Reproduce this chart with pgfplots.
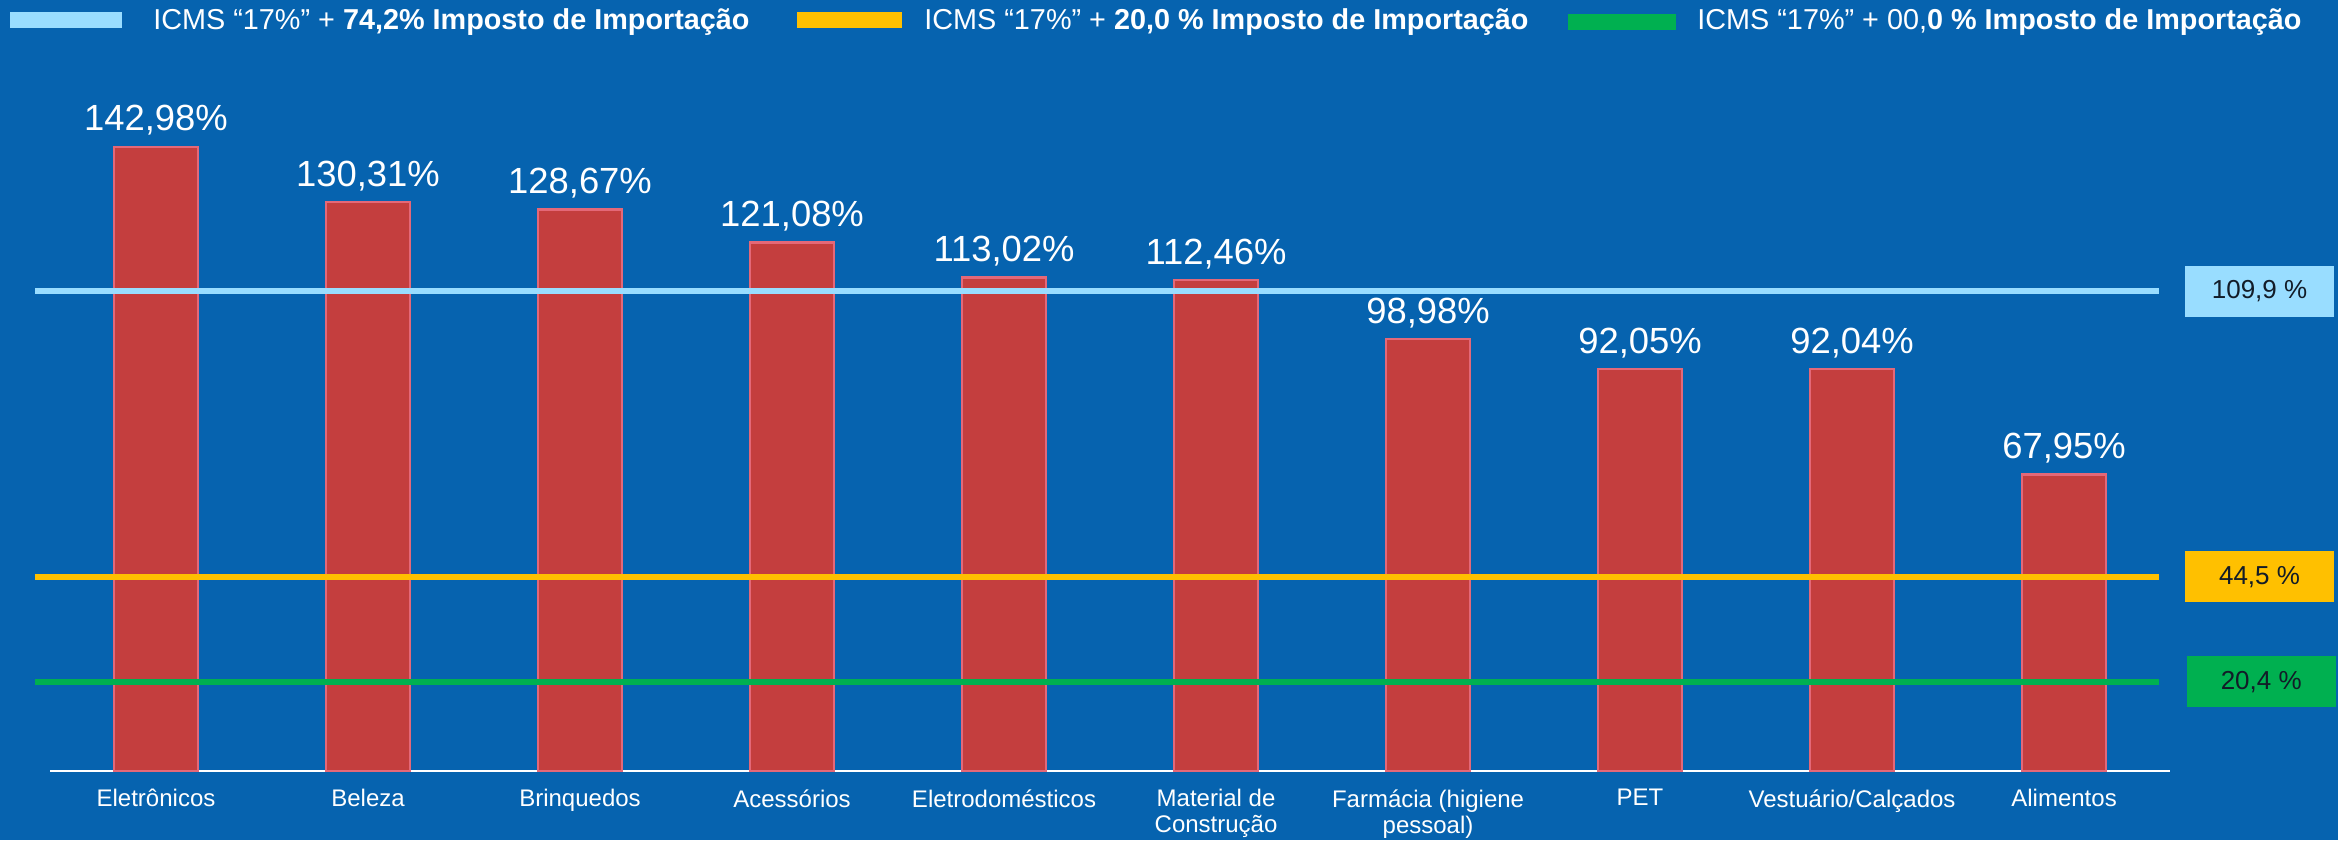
\documentclass[border=0pt]{standalone}
\usepackage{fontspec}
\setmainfont{Liberation Sans}
\usepackage{pgfplots}
\pgfplotsset{compat=1.18}
\usepackage{pgfplotstable}
\definecolor{bg}{RGB}{6,99,175}
\definecolor{barred}{RGB}{196,62,62}
\definecolor{glow}{RGB}{228,104,120}
\definecolor{lb}{RGB}{153,221,255}
\definecolor{og}{RGB}{255,192,0}
\definecolor{gr}{RGB}{0,176,80}
\definecolor{boxtext}{RGB}{18,28,40}

\pgfplotstableread{
x y lab
0 142.98 142,98\%
1 130.31 130,31\%
2 128.67 128,67\%
3 121.08 121,08\%
4 113.02 113,02\%
5 112.46 112,46\%
6 98.98 98,98\%
7 92.05 92,05\%
8 92.04 92,04\%
9 67.95 67,95\%
}\bars

\begin{document}
\begin{tikzpicture}
\path[use as bounding box, fill=bg] (0,0) rectangle (1169pt,420pt);
% legend
\fill[lb] (5pt,406pt) rectangle (61pt,414pt);
\node[anchor=base west, inner sep=0pt, text=white, font=\fontsize{14.4}{16}\selectfont] at (76.5pt,405pt) {ICMS “17\%” + \textbf{74,2\% Imposto de Importação}};
\fill[og] (398.5pt,406pt) rectangle (451pt,414pt);
\node[anchor=base west, inner sep=0pt, text=white, font=\fontsize{14.4}{16}\selectfont] at (462pt,405pt) {ICMS “17\%” + \textbf{20,0 \% Imposto de Importação}};
\fill[gr] (784pt,405pt) rectangle (838pt,413pt);
\node[anchor=base west, inner sep=0pt, text=white, font=\fontsize{14.4}{16}\selectfont] at (848.5pt,405pt) {ICMS “17\%” + 00,\textbf{0 \% Imposto de Importação}};
\begin{axis}[
  at={(25pt,34.5pt)}, anchor=south west,
  width=1060pt, height=327.4pt, scale only axis,
  xmin=-0.5, xmax=9.5, ymin=0, ymax=150,
  axis x line*=bottom, axis y line=none,
  x axis line style={white, line width=1pt, -},
  xtick={0,...,9},
  xticklabels={Eletrônicos,Beleza,Brinquedos,Acessórios,Eletrodomésticos,{Material de\\Construção},{Farmácia (higiene\\pessoal)},PET,Vestuário/Calçados,Alimentos},
  xticklabel style={font=\fontsize{12}{13}\selectfont, text=white, align=center, anchor=north, inner sep=0pt, yshift=-9pt},
  major tick length=0pt,
  ytick=\empty,
  clip=false,
]
\addplot[ybar, bar width=42pt, fill=barred, draw=glow, line width=1.2pt,
  nodes near coords, point meta=explicit symbolic,
  every node near coord/.append style={font=\fontsize{18.2}{20}\selectfont, text=white, anchor=south, inner sep=0pt, yshift=5pt}]
  table[x=x, y=y, meta=lab] {\bars};
\addplot[lb, line width=3pt] coordinates {(-0.57,109.9) (9.45,109.9)};
\addplot[og, line width=3pt] coordinates {(-0.57,44.5) (9.45,44.5)};
\addplot[gr, line width=3pt] coordinates {(-0.57,20.4) (9.45,20.4)};
\node[fill=lb, minimum width=74.5pt, minimum height=25.5pt, inner sep=0pt, text=boxtext, font=\fontsize{13}{15}\selectfont] at (axis cs:9.922,109.9) {109,9 \%};
\node[fill=og, minimum width=74.5pt, minimum height=25.5pt, inner sep=0pt, text=boxtext, font=\fontsize{13}{15}\selectfont] at (axis cs:9.922,44.5) {44,5 \%};
\node[fill=gr, minimum width=74.5pt, minimum height=25.5pt, inner sep=0pt, text=boxtext, font=\fontsize{13}{15}\selectfont] at (axis cs:9.93,20.4) {20,4 \%};
\end{axis}
\end{tikzpicture}
\end{document}
